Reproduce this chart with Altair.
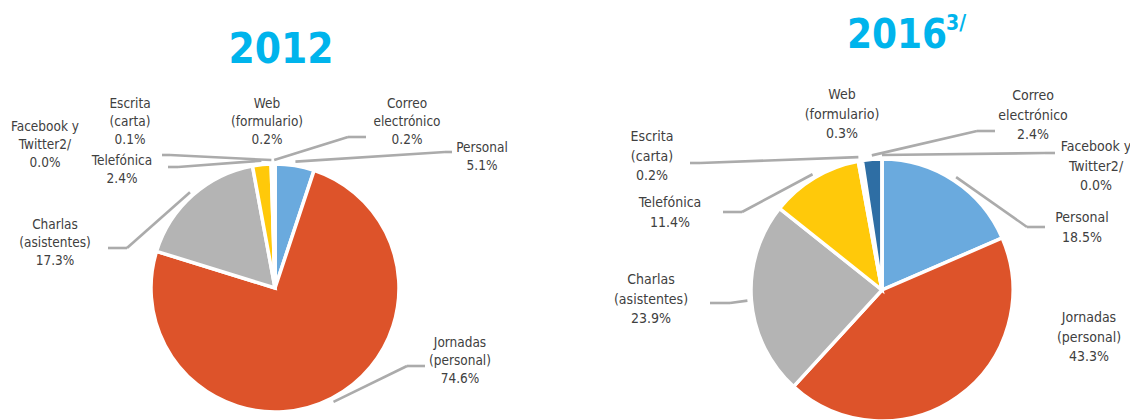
import altair as alt
import pandas as pd

# ---------------- data ----------------
categories = ["Personal", "Jornadas (personal)", "Charlas (asistentes)", "Telefónica",
              "Escrita (carta)", "Web (formulario)", "Correo electrónico", "Facebook y Twitter2/"]
label_lines = [["Personal"], ["Jornadas", "(personal)"], ["Charlas", "(asistentes)"], ["Telefónica"],
               ["Escrita", "(carta)"], ["Web", "(formulario)"], ["Correo", "electrónico"],
               ["Facebook y", "Twitter2/"]]
values_2012 = [5.1, 74.6, 17.3, 2.4, 0.1, 0.2, 0.2, 0.0]
values_2016 = [18.5, 43.3, 23.9, 11.4, 0.2, 0.3, 2.4, 0.0]
years = ["2012", "2016"]
year_note = "3/"

colors = ["#6AAADE", "#DD532A", "#B4B4B4", "#FFC90A", "#4472C4", "#70AD47", "#2E6EA4", "#9E480E"]

# ---------------- layout (image pixel coords; label y = first line) ----------------
OFF = 8
FONT = "'Liberation Sans Narrow', 'Noto Sans Condensed', 'DejaVu Sans Condensed', 'DejaVu Sans', sans-serif"
pies = {
    "2012": dict(cx=275, cy=288, r=124, fs=13.5, lh=18,
                 labels=[(482, 148), (460, 343), (55, 225), (122, 161), (130, 104), (267, 104), (407, 104), (45, 127)],
                 lines=[((445, 152), (452, 152)), ((407, 366), (425, 366)), ((127, 248), (108, 248)),
                        ((178, 167), (168, 167)), ((170, 155), (162, 155)), None,
                        ((348, 137), (366, 137)), None]),
    "2016": dict(cx=882, cy=290, r=131, fs=14, lh=19.5,
                 labels=[(1082, 218), (1089, 318), (651, 280), (670, 203), (652, 137), (842, 95), (1033, 96), (1096, 147)],
                 lines=[((1027, 227), (1045, 227)), None, ((730, 303), (710, 303)),
                        ((742, 212), (723, 212)), ((700, 163), (690, 163)), None,
                        ((977, 131), (995, 131)), ((1045, 153), (1055, 153))]),
}
title_pos = {"2012": (281, 63, 42), "2016": (897, 48, 40)}
note_pos = (946, 30, 21)

color_scale = alt.Scale(domain=categories, range=colors)


def build(year, values):
    L = pies[year]
    rows = []
    for i, (c, v) in enumerate(zip(categories, values)):
        ln = L["lines"][i]
        lx, ly = L["labels"][i]
        rows.append(dict(
            cat=c, value=v, ord=i,
            label="\n".join(label_lines[i] + [f"{v:.1f}%"]),
            lx=lx - OFF, ly=ly - OFF,
            has_line=ln is not None,
            ex=(ln[0][0] - OFF) if ln else 0, ey=(ln[0][1] - OFF) if ln else 0,
            tx=(ln[1][0] - OFF) if ln else 0, ty=(ln[1][1] - OFF) if ln else 0,
        ))
    df = pd.DataFrame(rows)
    base = alt.Chart(df)
    cx, cy, r = L["cx"] - OFF, L["cy"] - OFF, L["r"]
    arc = base.mark_arc(radius=r, stroke="white", strokeWidth=3.5).encode(
        theta=alt.Theta("value:Q", stack=True),
        order=alt.Order("ord:Q"),
        color=alt.Color("cat:N", scale=color_scale, legend=None),
        x=alt.value(cx), y=alt.value(cy),
    )
    R = r + 4
    seg1 = base.transform_window(
        cum="sum(value)", sort=[alt.SortField("ord")], frame=[None, 0]
    ).transform_joinaggregate(total="sum(value)").transform_calculate(
        mid="(datum.cum - datum.value/2) / datum.total * 2 * PI",
        ax=f"{cx} + {R} * sin(datum.mid)",
        ay=f"{cy} - {R} * cos(datum.mid)",
    ).transform_filter("datum.has_line").mark_rule(color="#ABABAB", strokeWidth=2.6).encode(
        x=alt.X("ax:Q", scale=None, axis=None), y=alt.Y("ay:Q", scale=None, axis=None),
        x2="ex:Q", y2="ey:Q",
    )
    seg2 = base.transform_filter("datum.has_line").mark_rule(color="#ABABAB", strokeWidth=2.6).encode(
        x=alt.X("ex:Q", scale=None, axis=None), y=alt.Y("ey:Q", scale=None, axis=None),
        x2="tx:Q", y2="ty:Q",
    )
    txt = base.mark_text(lineBreak="\n", align="center", baseline="middle", font=FONT,
                         fontSize=L["fs"], lineHeight=L["lh"], color="#404040").encode(
        x=alt.X("lx:Q", scale=None, axis=None), y=alt.Y("ly:Q", scale=None, axis=None),
        text="label:N",
    )
    tx_, ty_, tfs = title_pos[year]
    title = alt.Chart(pd.DataFrame({"t": [year]})).mark_text(
        font=FONT, fontWeight="bold", fontSize=tfs, color="#00B4EC", align="center", baseline="alphabetic"
    ).encode(x=alt.value(tx_ - OFF), y=alt.value(ty_ - OFF), text="t:N")
    layers = [arc, seg1, seg2, txt, title]
    return layers


l12 = build("2012", values_2012)
l16 = build("2016", values_2016)
note = alt.Chart(pd.DataFrame({"t": [year_note]})).mark_text(
    font=FONT, fontWeight="bold", fontSize=note_pos[2], color="#00B4EC", align="left", baseline="alphabetic"
).encode(x=alt.value(note_pos[0] - OFF), y=alt.value(note_pos[1] - OFF), text="t:N")

chart = alt.layer(*l12, *l16, note).resolve_scale(theta="independent").properties(
    width=1122, height=412, padding=0,
    autosize=alt.AutoSizeParams(type="fit", contains="padding"),
    background="white",
).configure_view(stroke=None)

chart.save("out.html", embed_options={"renderer": "svg", "actions": False})
